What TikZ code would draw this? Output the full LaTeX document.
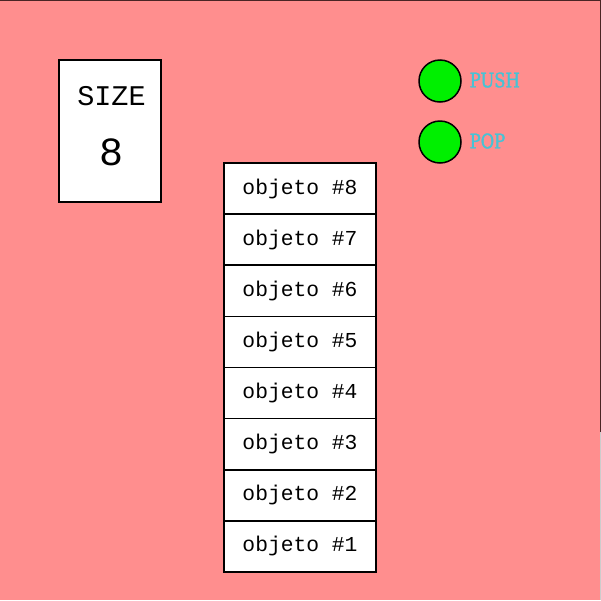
\documentclass[tikz,border=0pt]{standalone}
\usepackage{fontspec}
\setmonofont{Liberation Mono}
\newfontfamily\labelfont[FakeStretch=0.82,FakeBold=1.6]{DejaVu Serif}
\definecolor{bgpink}{HTML}{FF8E8E}
\definecolor{btngreen}{HTML}{00F000}
\definecolor{lblcyan}{HTML}{45C3D6}
\definecolor{edgedark}{HTML}{4A2424}
\begin{document}
\begin{tikzpicture}[x=1pt,y=-1pt,
  cell/.style={draw=black,line width=1.6pt,fill=white,minimum width=152pt,minimum height=51.125pt,inner sep=0pt,outer sep=0pt,font=\ttfamily\fontsize{21.3}{24}\selectfont},
  sizebox/.style={draw=black,line width=1.6pt,fill=white,minimum width=102pt,minimum height=142pt,inner sep=0pt,outer sep=0pt},
  btn/.style={circle,draw=black,line width=1.5pt,fill=btngreen,minimum size=42pt,inner sep=0pt},
  btnlabel/.style={anchor=west,inner sep=0pt,text=lblcyan,font=\labelfont\fontsize{20}{23}\selectfont}
]
\useasboundingbox (0,0) rectangle (601,600);
\fill[bgpink] (0,0) rectangle (601,600);
\draw[edgedark,line width=1.2pt] (0,0.6) -- (600.4,0.6) -- (600.4,432);
\draw[gray!40,line width=1.2pt] (600.4,432) -- (600.4,600);

% size box
\node[sizebox] (sz) at (110,131) {};
\node[inner sep=0pt,font=\ttfamily\fontsize{28.5}{30}\selectfont] (szlbl) at (111.5,96) {SIZE};
\node[inner sep=0pt,font=\ttfamily\fontsize{40}{42}\selectfont] (szval) at (111.5,152) {8};

% buttons
\node[btn] (push) at (440,81) {};
\node[btn] (pop) at (440,142) {};
\node[btnlabel] (pushlbl) at (469.5,80) {PUSH};
\node[btnlabel] (poplbl) at (469.5,141) {POP};

% stack
\foreach \i [count=\k from 0] in {8,7,6,5,4,3,2,1} {
  \node[cell] (o\i) at (300,{163+51.125*(\k+0.5)}) {objeto \#\i};
}
\end{tikzpicture}
\end{document}
